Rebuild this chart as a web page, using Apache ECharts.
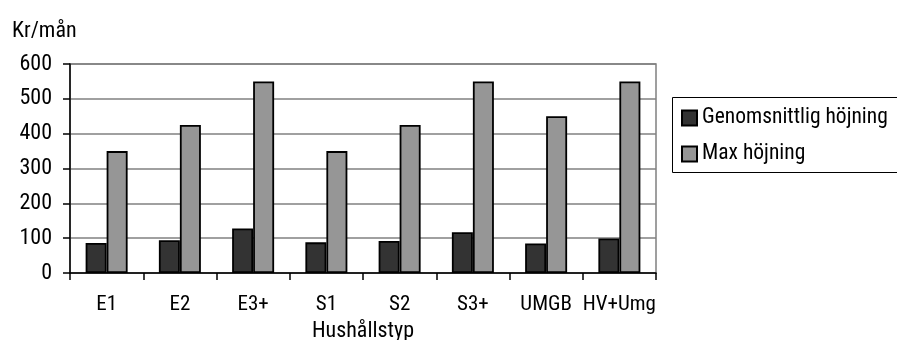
<!DOCTYPE html>
<html>
<head>
<meta charset="utf-8">
<script src="https://cdn.jsdelivr.net/npm/echarts@6/dist/echarts.min.js"></script>
<style>
  html, body { margin: 0; padding: 0; background: #fff; }
  #chart { width: 897px; height: 340px; }
</style>
</head>
<body>
<div id="chart"></div>
<script>
// Household types on the category axis
const categories = ['E1', 'E2', 'E3+', 'S1', 'S2', 'S3+', 'UMGB', 'HV+Umg'];
// Average monthly increase (kr/month)
const averageIncrease = [86, 94, 128, 88, 92, 117, 85, 99];
// Maximum monthly increase (kr/month)
const maxIncrease = [350, 425, 550, 350, 425, 550, 450, 550];
// Value-axis ticks
const yTicks = [0, 100, 200, 300, 400, 500, 600];

const FONT = '"Roboto Condensed", "Liberation Sans Narrow", "DejaVu Sans Condensed", sans-serif';

const chart = echarts.init(document.getElementById('chart'), null, { renderer: 'canvas' });

chart.setOption({
  animation: false,
  backgroundColor: '#ffffff',
  textStyle: { fontFamily: FONT, color: '#000' },
  title: {
    text: 'Kr/mån',
    left: 7,
    top: 15,
    textStyle: { fontFamily: FONT, fontSize: 22, fontWeight: 'normal', color: '#000' }
  },
  grid: {
    left: 70, right: 241, top: 64, bottom: 67,
    containLabel: false,
    outerBoundsMode: 'none',
    show: true,
    borderColor: '#808080',
    borderWidth: 1.5,
    backgroundColor: 'transparent'
  },
  legend: {
    orient: 'vertical',
    left: 676,
    top: 102,
    icon: 'rect',
    itemWidth: 15,
    itemHeight: 15,
    itemGap: 14,
    textStyle: { fontFamily: FONT, fontSize: 21.5, color: '#000' },
    data: ['Genomsnittlig höjning', 'Max höjning']
  },
  graphic: [{
    type: 'rect',
    shape: { x: 672.5, y: 97.5, width: 260, height: 75 },
    style: { fill: 'none', stroke: '#000', lineWidth: 1 },
    z: -1
  }],
  xAxis: {
    type: 'category',
    data: categories,
    name: 'Hushållstyp',
    nameLocation: 'middle',
    nameGap: 47,
    nameTextStyle: { fontFamily: FONT, fontSize: 22, color: '#000' },
    axisLine: { lineStyle: { color: '#000', width: 1.5 } },
    axisTick: { show: true, length: 7, lineStyle: { color: '#000', width: 1.5 } },
    axisLabel: { fontFamily: FONT, fontSize: 21, color: '#000', margin: 21, interval: 0 },
    splitLine: { show: false }
  },
  yAxis: {
    type: 'value',
    min: yTicks[0],
    max: yTicks[yTicks.length - 1],
    interval: yTicks[1] - yTicks[0],
    axisLine: { show: true, lineStyle: { color: '#000', width: 1.5 } },
    axisTick: { show: true, length: 7, lineStyle: { color: '#000', width: 1.5 } },
    axisLabel: { fontFamily: FONT, fontSize: 22, color: '#000', margin: 18 },
    splitLine: { show: true, lineStyle: { color: '#808080', width: 1.5 } }
  },
  series: [
    {
      name: 'Genomsnittlig höjning',
      type: 'bar',
      data: averageIncrease,
      barWidth: 21,
      barGap: '0%',
      itemStyle: { color: '#333333', borderColor: '#000', borderWidth: 1.8 }
    },
    {
      name: 'Max höjning',
      type: 'bar',
      data: maxIncrease,
      barWidth: 21,
      barGap: '0%',
      itemStyle: { color: '#969696', borderColor: '#000', borderWidth: 1.8 }
    }
  ]
});
</script>
</body>
</html>
